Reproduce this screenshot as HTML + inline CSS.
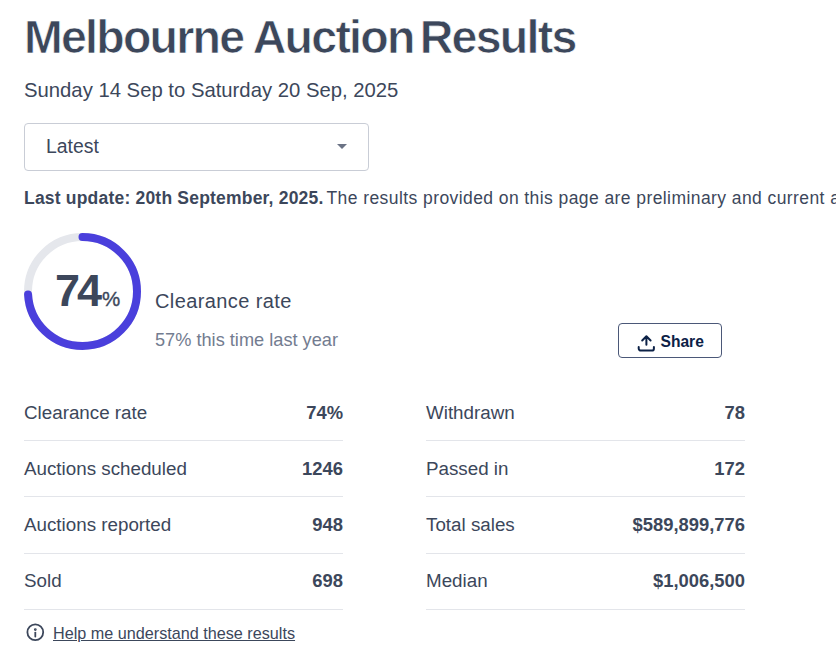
<!DOCTYPE html>
<html>
<head>
<meta charset="utf-8">
<style>
*{margin:0;padding:0;box-sizing:border-box;}
html,body{width:836px;height:668px;overflow:hidden;background:#fff;}
body{font-family:"Liberation Sans",sans-serif;color:#3c475b;position:relative;}
.abs{position:absolute;white-space:nowrap;}
h1{position:absolute;left:24px;top:9px;font-size:46.5px;font-weight:bold;line-height:56px;letter-spacing:-1.75px;-webkit-text-stroke:0.7px #fff;color:#3c475b;white-space:nowrap;}
.sub{left:24px;top:78px;font-size:20.3px;line-height:24px;}
.dd{position:absolute;left:24px;top:123px;width:345px;height:48px;border:1px solid #c9cdd6;border-radius:4px;}
.dd span{position:absolute;left:21px;top:10px;font-size:19.4px;line-height:24px;}
.caret{position:absolute;left:312px;top:20px;width:0;height:0;border-left:5px solid transparent;border-right:5px solid transparent;border-top:5px solid #6b7385;}
.upd{left:24px;top:188px;font-size:17.5px;line-height:20px;letter-spacing:0.34px;}
.upd b{font-weight:bold;letter-spacing:0.2px;}
.ring{position:absolute;left:24px;top:233px;}
.big{left:55px;top:266px;font-size:45px;font-weight:bold;line-height:50px;}
.big small{font-size:20.5px;font-weight:normal;-webkit-text-stroke:0.35px #3c475b;}
.cr{left:155px;top:289px;font-size:20px;line-height:24px;letter-spacing:0.4px;}
.ly{left:155px;top:329px;font-size:18.2px;line-height:22px;color:#737c90;}
.share{position:absolute;left:618px;top:323px;width:104px;height:35px;border:1px solid #4b5878;border-radius:4px;}
.share span{position:absolute;left:41.5px;top:7.5px;font-size:15.6px;font-weight:bold;line-height:20px;color:#0c2146;}
.share svg{position:absolute;left:17px;top:9px;}
.k,.v{position:absolute;font-size:18.8px;line-height:22px;}
.v{font-weight:bold;text-align:right;font-size:18.4px;}
.ln{position:absolute;height:1px;background:#e3e5ea;width:319px;}
.help{left:53px;top:623px;font-size:16.2px;line-height:20px;text-decoration:underline;}
.info{position:absolute;left:25px;top:622px;}
</style>
</head>
<body>
<h1>Melbourne Auction <span style="margin-left:-5px">Results</span></h1>
<div class="abs sub">Sunday 14 Sep to Saturday 20 Sep, 2025</div>
<div class="dd"><span>Latest</span><div class="caret"></div></div>
<div class="abs upd"><b>Last update: 20th September, 2025.</b><span style="margin-left:-2px;letter-spacing:0.42px"> The results provided on this page are preliminary and current as at</span></div>

<svg class="ring" width="117" height="117" viewBox="0 0 117 117">
  <circle cx="58.5" cy="58.5" r="54.5" fill="none" stroke="#e5e7ec" stroke-width="8"/>
  <circle cx="58.5" cy="58.5" r="54.5" fill="none" stroke="#4a3fdc" stroke-width="8" stroke-linecap="round"
    stroke-dasharray="253.4 400" transform="rotate(-90 58.5 58.5)"/>
</svg>
<div class="abs big"><span style="letter-spacing:-3px">7</span>4<small>%</small></div>
<div class="abs cr">Clearance rate</div>
<div class="abs ly">57% this time last year</div>

<div class="share">
  <svg width="20" height="20" viewBox="0 0 20 20" fill="none" stroke="#0c2146" stroke-width="2" stroke-linecap="round" stroke-linejoin="round">
    <path d="M10.4 11.8V3.4M6.2 7.5l4.2-4.2 4.2 4.2"/>
    <path d="M2.7 14v1.4a2.2 2.2 0 0 0 2.2 2.2h10.8a2.2 2.2 0 0 0 2.2-2.2V14"/>
  </svg>
  <span>Share</span>
</div>

<div class="abs k" style="left:24px;top:402px;">Clearance rate</div><div class="abs v" style="right:493px;top:402px;">74%</div><div class="ln" style="left:24px;top:440px;"></div>
<div class="abs k" style="left:24px;top:458px;">Auctions scheduled</div><div class="abs v" style="right:493px;top:458px;">1246</div><div class="ln" style="left:24px;top:496px;"></div>
<div class="abs k" style="left:24px;top:514px;">Auctions reported</div><div class="abs v" style="right:493px;top:514px;">948</div><div class="ln" style="left:24px;top:553px;"></div>
<div class="abs k" style="left:24px;top:570px;">Sold</div><div class="abs v" style="right:493px;top:570px;">698</div><div class="ln" style="left:24px;top:609px;"></div>

<div class="abs k" style="left:426px;top:402px;">Withdrawn</div><div class="abs v" style="right:91px;top:402px;">78</div><div class="ln" style="left:426px;top:440px;"></div>
<div class="abs k" style="left:426px;top:458px;">Passed in</div><div class="abs v" style="right:91px;top:458px;">172</div><div class="ln" style="left:426px;top:496px;"></div>
<div class="abs k" style="left:426px;top:514px;">Total sales</div><div class="abs v" style="right:91px;top:514px;">$589,899,776</div><div class="ln" style="left:426px;top:553px;"></div>
<div class="abs k" style="left:426px;top:570px;">Median</div><div class="abs v" style="right:91px;top:570px;">$1,006,500</div><div class="ln" style="left:426px;top:609px;"></div>

<svg class="info" width="20" height="20" viewBox="0 0 20 20" fill="none" stroke="#3c475b" stroke-width="1.8">
  <circle cx="10.3" cy="10.3" r="7.9"/>
  <path d="M10.3 10.6v4" stroke-linecap="round"/>
  <circle cx="10.3" cy="7.6" r="0.5" fill="#3c475b"/>
</svg>
<div class="abs help">Help me understand these results</div>
</body>
</html>
